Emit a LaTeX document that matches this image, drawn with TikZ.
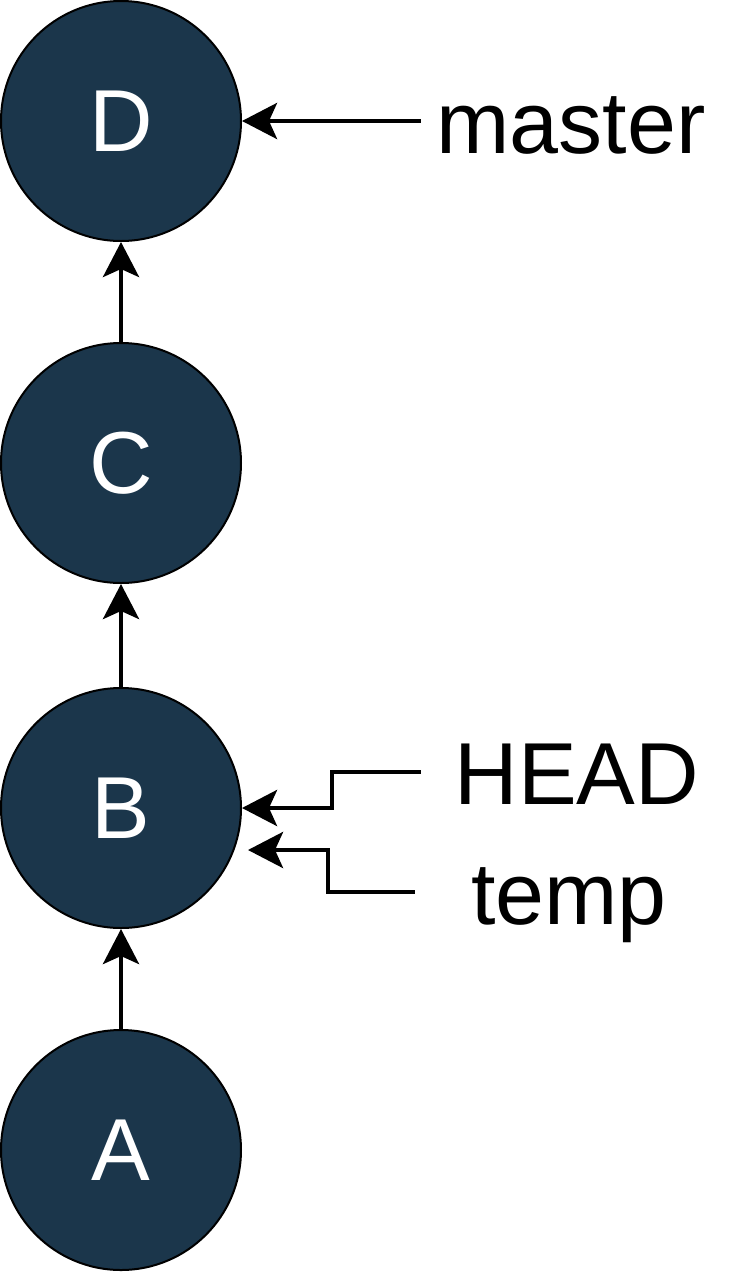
\documentclass[tikz,border=0pt]{standalone}
\usepackage{fontspec}
\setmainfont{Liberation Sans}
\usetikzlibrary{arrows.meta}
\definecolor{commitblue}{RGB}{27,54,75}
\tikzset{
  commit/.style={circle, draw=black, fill=commitblue, line width=2pt,
                 minimum size=240pt, inner sep=0pt, text=white,
                 font=\fontsize{88}{96}\selectfont},
  reflabel/.style={inner sep=0pt, minimum width=300pt,
                   text height=64pt, text depth=0pt,
                   font=\fontsize{88}{96}\selectfont},
  refarrow/.style={-{Stealth[length=35pt, width=36pt, inset=8pt]},
                   line width=4.5pt, black},
}
\begin{document}
\begin{tikzpicture}[x=1pt, y=-1pt]
  \useasboundingbox (0,0) rectangle (735,1272);
  % commits
  \node[commit] (D) at (121,121)  {D};
  \node[commit] (C) at (121,463)  {C};
  \node[commit] (B) at (121,808)  {B};
  \node[commit] (A) at (121,1150) {A};
  % refs
  \node[reflabel] (master) at (571,121) {master};
  \node[reflabel, minimum width=312pt] (head) at (577,772) {HEAD};
  \node[reflabel, minimum width=308pt] (temp) at (569,892) {temp};
  \coordinate (tempend) at (248,850);
  % history
  \draw[refarrow] (C) -- (D);
  \draw[refarrow] (B) -- (C);
  \draw[refarrow] (A) -- (B);
  \draw[refarrow] (master) -- (D);
  \draw[refarrow] (head.west) -- ++(-89,0) |- (B);
  \draw[refarrow] (temp.west) -- ++(-87,0) |- (tempend);
\end{tikzpicture}
\end{document}
